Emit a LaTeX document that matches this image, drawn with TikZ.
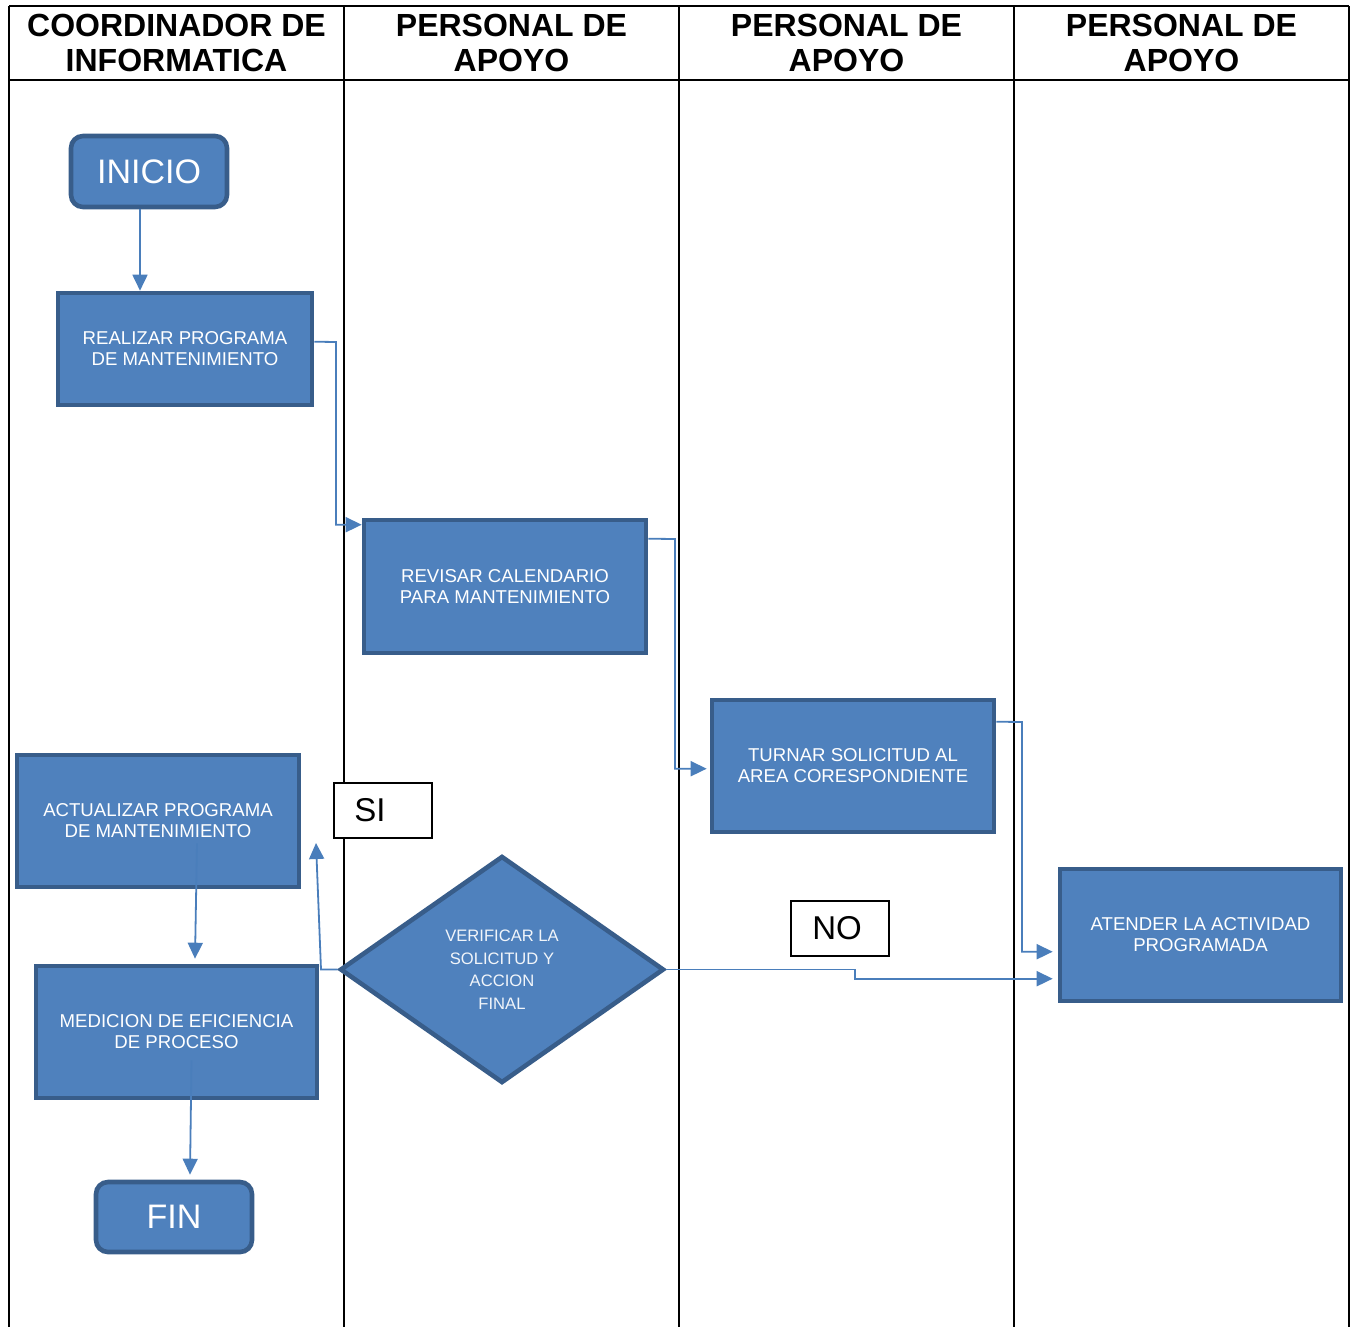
\documentclass[tikz,border=0pt]{standalone}
\usepackage{fontspec}
\setmainfont{Liberation Sans}
\usetikzlibrary{shapes.geometric,arrows.meta,calc}
\definecolor{boxfill}{HTML}{4F81BD}
\definecolor{boxline}{HTML}{385D8A}
\definecolor{connc}{HTML}{4A7EBB}
\begin{document}
\begin{tikzpicture}[x=0.5pt,y=-0.5pt,
 lane/.style={line width=0.6pt, black},
 head/.style={font=\fontsize{16}{17.5}\selectfont\bfseries, align=center, inner sep=0pt},
 proc/.style={rectangle, draw=boxline, fill=boxfill, line width=2.3pt, text=white, align=center,
   font=\fontsize{9.3}{10.5}\selectfont, inner sep=0pt},
 term/.style={proc, rounded corners=6pt, font=\fontsize{17}{20}\selectfont},
 dec/.style={diamond, draw=boxline, fill=boxfill, line width=2.3pt, text=white!92!boxfill, align=center,
   font=\fontsize{8.3}{11.25}\selectfont, inner sep=0pt},
 lab/.style={rectangle, draw=black, line width=0.6pt, fill=white, font=\fontsize{16.5}{18}\selectfont,
   minimum width=49pt, minimum height=27.5pt, inner sep=0pt},
 conn/.style={draw=connc, line width=0.9pt, -{Triangle[length=8pt,width=7.5pt]}}
]
\useasboundingbox (0,0) rectangle (1354,1327);
% swimlanes
\draw[lane] (9,6) -- (1349,6);
\draw[lane] (9,80) -- (1349,80);
\foreach \x in {9,344,679,1014,1349} \draw[lane] (\x,6) -- (\x,1327);
\node[head] (h1) at (176.5,43) {COORDINADOR DE\\INFORMATICA};
\node[head] (h2) at (511.5,43) {PERSONAL DE\\APOYO};
\node[head] (h3) at (846.5,43) {PERSONAL DE\\APOYO};
\node[head] (h4) at (1181.5,43) {PERSONAL DE\\APOYO};
% nodes
\node[term, minimum width=78pt, minimum height=35.5pt] (inicio) at (149,171.5) {INICIO};
\node[proc, minimum width=127pt, minimum height=56pt] (realizar) at (185,349) {REALIZAR PROGRAMA\\DE MANTENIMIENTO};
\node[proc, minimum width=141pt, minimum height=66.5pt] (revisar) at (505,586.5) {REVISAR CALENDARIO\\PARA MANTENIMIENTO};
\node[proc, minimum width=141pt, minimum height=66pt] (turnar) at (853,766) {TURNAR SOLICITUD AL\\AREA CORESPONDIENTE};
\node[proc, minimum width=140.5pt, minimum height=66pt] (atender) at (1200.5,935) {ATENDER LA ACTIVIDAD\\PROGRAMADA};
\node[proc, minimum width=141pt, minimum height=66pt] (act) at (158,821) {ACTUALIZAR PROGRAMA\\DE MANTENIMIENTO};
\node[proc, minimum width=140.5pt, minimum height=66pt] (med) at (176.5,1032) {MEDICION DE EFICIENCIA\\DE PROCESO};
\node[term, minimum width=78pt, minimum height=35pt] (fin) at (174,1217) {FIN};
\node[dec, minimum width=162pt, minimum height=113.5pt] (dec) at (502,969.5) {VERIFICAR LA\\SOLICITUD Y\\ACCION\\FINAL};
\node[lab] (si) at (383,810.5) {SI\kern13pt};
\node[lab] (no) at (840,928.5) {NO\kern3pt};
% helper coordinates
\coordinate (c1) at (140,0);
\coordinate (sitip) at (316,843);
% connectors
\draw[conn] (inicio.south -| c1) -- (realizar.north -| c1);
\draw[conn] ($(realizar.north east)+(0,51)$) -- (336,342) |- ($(revisar.north west)+(0,7)$);
\draw[conn] ($(revisar.north east)+(0,21)$) -- (675,539) |- ($(turnar.north west)+(-3,71)$);
\draw[conn] ($(turnar.north east)+(0,24)$) -- (1022,722) |- ($(atender.north west)+(-5,85)$);
\draw[conn] (dec.east) -- (855,969.5) |- ($(atender.north west)+(-5,112)$);
\draw[conn] (dec.west) -- (321,969.5) -- (sitip);
\draw[conn] ($(act.south)+(39,-46)$) -- ($(med.north)+(18.5,-5)$);
\draw[conn] ($(med.south)+(15,-40)$) -- ($(fin.north)+(16,-5)$);
\end{tikzpicture}
\end{document}
